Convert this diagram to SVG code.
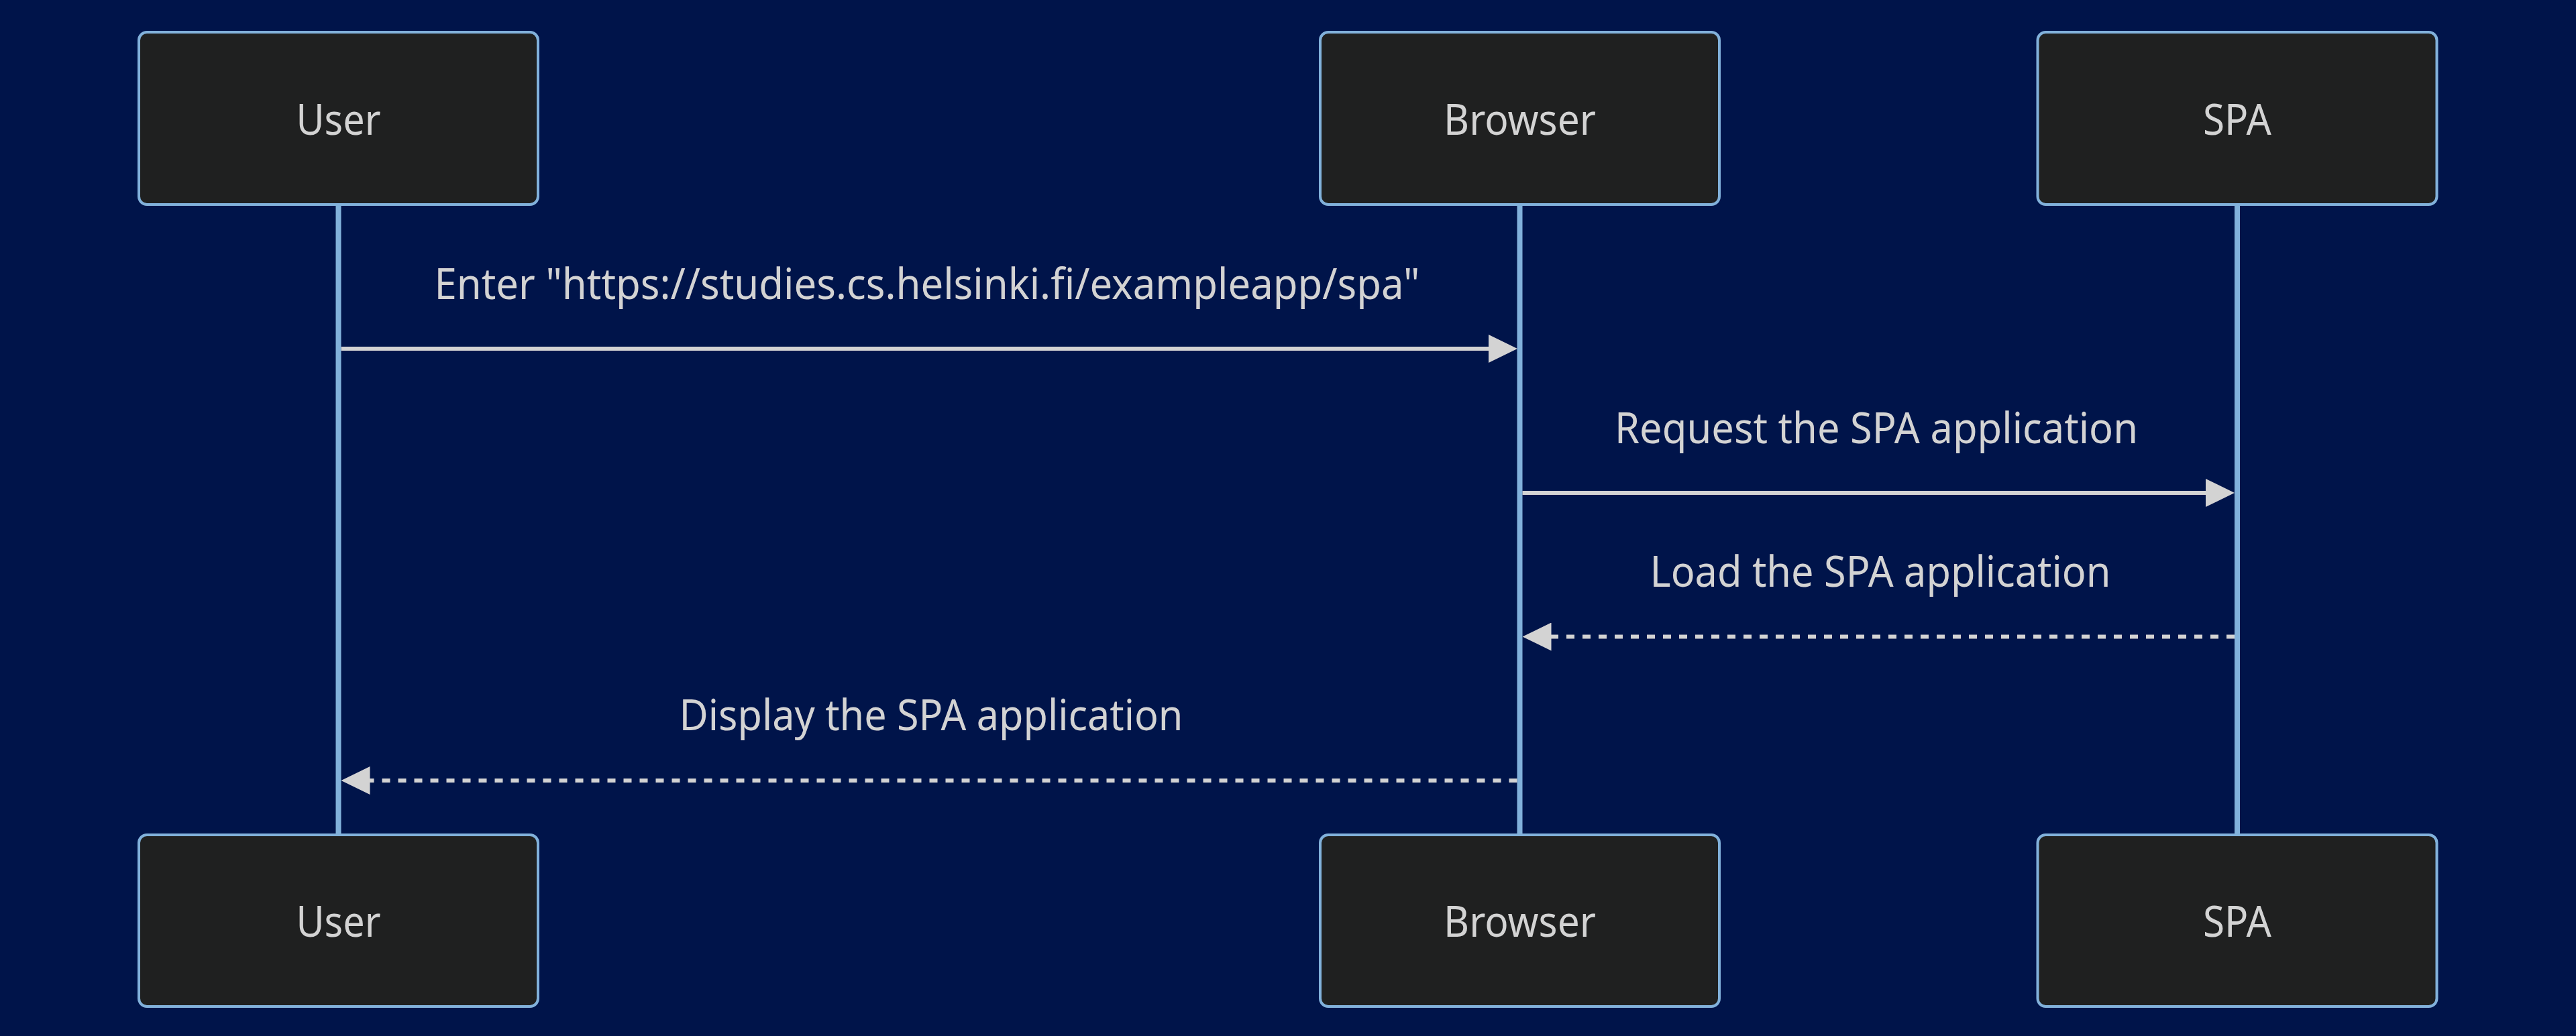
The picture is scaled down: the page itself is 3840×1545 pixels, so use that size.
<svg xmlns="http://www.w3.org/2000/svg" width="3840" height="1545" viewBox="0 0 3840 1545">
<style>
.actor rect{fill:#1f2020;stroke:#81b1db;stroke-width:4}
.actor text{fill:#d3d3d3;font-family:"Noto Sans","Open Sans",sans-serif;font-size:64px;text-anchor:middle}
.life{stroke:#81b1db;stroke-width:8}
.msg{stroke:#d3d3d3;stroke-width:6;fill:none}
.dash{stroke-dasharray:12 12}
.lbl{fill:#d3d3d3;font-family:"Noto Sans","Open Sans",sans-serif;font-size:64px;text-anchor:middle}
</style>
<defs>
<marker id="arrow" markerUnits="userSpaceOnUse" viewBox="0 0 43 42" refX="35" refY="21" markerWidth="43" markerHeight="42" orient="auto">
<path d="M0 0 L43 21 L0 42 Z" fill="#d3d3d3"/>
</marker>
</defs>
<rect width="3840" height="1545" fill="#00144a"/>
<g id="lifelines">
<line class="life" x1="504.5" y1="306" x2="504.5" y2="1244"/>
<line class="life" x1="2265.5" y1="306" x2="2265.5" y2="1244"/>
<line class="life" x1="3335" y1="306" x2="3335" y2="1244"/>
</g>
<g id="user-top" class="actor"><rect x="207" y="48" width="595" height="257" rx="12"/><text x="504.5" y="201" textLength="126" lengthAdjust="spacingAndGlyphs">User</text></g>
<g id="browser-top" class="actor"><rect x="1968" y="48" width="595" height="257" rx="12"/><text x="2265.5" y="201" textLength="227" lengthAdjust="spacingAndGlyphs">Browser</text></g>
<g id="spa-top" class="actor"><rect x="3037.5" y="48" width="595" height="257" rx="12"/><text x="3335" y="201" textLength="102" lengthAdjust="spacingAndGlyphs">SPA</text></g>
<g id="user-bottom" class="actor"><rect x="207" y="1245" width="595" height="256" rx="12"/><text x="504.5" y="1397" textLength="126" lengthAdjust="spacingAndGlyphs">User</text></g>
<g id="browser-bottom" class="actor"><rect x="1968" y="1245" width="595" height="256" rx="12"/><text x="2265.5" y="1397" textLength="227" lengthAdjust="spacingAndGlyphs">Browser</text></g>
<g id="spa-bottom" class="actor"><rect x="3037.5" y="1245" width="595" height="256" rx="12"/><text x="3335" y="1397" textLength="102" lengthAdjust="spacingAndGlyphs">SPA</text></g>
<g id="connectors">
<text class="lbl" x="1382" y="446" textLength="1469" lengthAdjust="spacingAndGlyphs">Enter "https://studies.cs.helsinki.fi/exampleapp/spa"</text>
<line class="msg" x1="508.5" y1="520" x2="2254" y2="520" marker-end="url(#arrow)"/>
<text class="lbl" x="2797" y="661" textLength="780" lengthAdjust="spacingAndGlyphs">Request the SPA application</text>
<line class="msg" x1="2269.5" y1="735" x2="3323" y2="735" marker-end="url(#arrow)"/>
<text class="lbl" x="2803" y="875" textLength="687" lengthAdjust="spacingAndGlyphs">Load the SPA application</text>
<line class="msg dash" x1="3331" y1="949.5" x2="2277.5" y2="949.5" marker-end="url(#arrow)"/>
<text class="lbl" x="1388" y="1089" textLength="751" lengthAdjust="spacingAndGlyphs">Display the SPA application</text>
<line class="msg dash" x1="2261.5" y1="1164" x2="516.5" y2="1164" marker-end="url(#arrow)"/>
</g>
</svg>
